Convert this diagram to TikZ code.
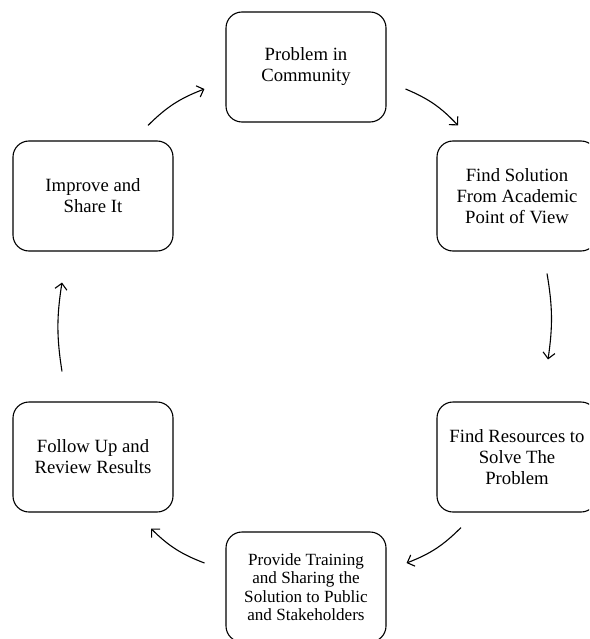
\documentclass[tikz,border=0pt]{standalone}
\usepackage{fontspec}
\setmainfont{Liberation Serif}
\usetikzlibrary{arrows.meta}
\begin{document}
\begin{tikzpicture}[x=1pt,y=1pt,
  stepbox/.style={draw, line width=1.1pt, rounded corners=16pt, minimum width=160pt, minimum height=110pt, inner sep=0pt, align=center, font=\fontsize{18.7}{21}\selectfont},
  arr/.style={draw, line width=1.1pt, -{Straight Barb[length=6pt,width=12pt,line width=1.1pt]}}]
\useasboundingbox (0,0) rectangle (589,-639);
\clip (0,0) rectangle (589,-639);
\node[stepbox] (top) at (306,-67) {Problem in\\Community};
\node[stepbox] (sol) at (517,-196) {Find Solution\\From Academic\\Point of View};
\node[stepbox] (res) at (517,-457) {Find Resources to\\Solve The\\Problem};
\node[stepbox, font=\fontsize{17.1}{18.4}\selectfont] (train) at (306,-587) {Provide Training\\and Sharing the\\Solution to Public\\and Stakeholders};
\node[stepbox] (fol) at (93,-457) {Follow Up and\\Review Results};
\node[stepbox] (imp) at (93,-196) {Improve and\\Share It};
\draw[arr] ([xshift=55pt,yshift=15pt]imp.north) to[bend left=12] ([xshift=-21pt,yshift=-22pt]top.west);
\draw[arr] ([xshift=19pt,yshift=-22pt]top.east) to[bend left=12] ([xshift=-59pt,yshift=15pt]sol.north);
\draw[arr] ([xshift=30pt,yshift=-22pt]sol.south) to[bend left=9] ([xshift=31pt,yshift=42pt]res.north);
\draw[arr] ([xshift=-56pt,yshift=-15pt]res.south) to[bend left=12] ([xshift=20pt,yshift=24pt]train.east);
\draw[arr] ([xshift=-21pt,yshift=24pt]train.west) to[bend left=12] ([xshift=58pt,yshift=-16pt]fol.south);
\draw[arr] ([xshift=-31pt,yshift=30pt]fol.north) to[bend left=9] ([xshift=-31pt,yshift=-31pt]imp.south);
\end{tikzpicture}
\end{document}
